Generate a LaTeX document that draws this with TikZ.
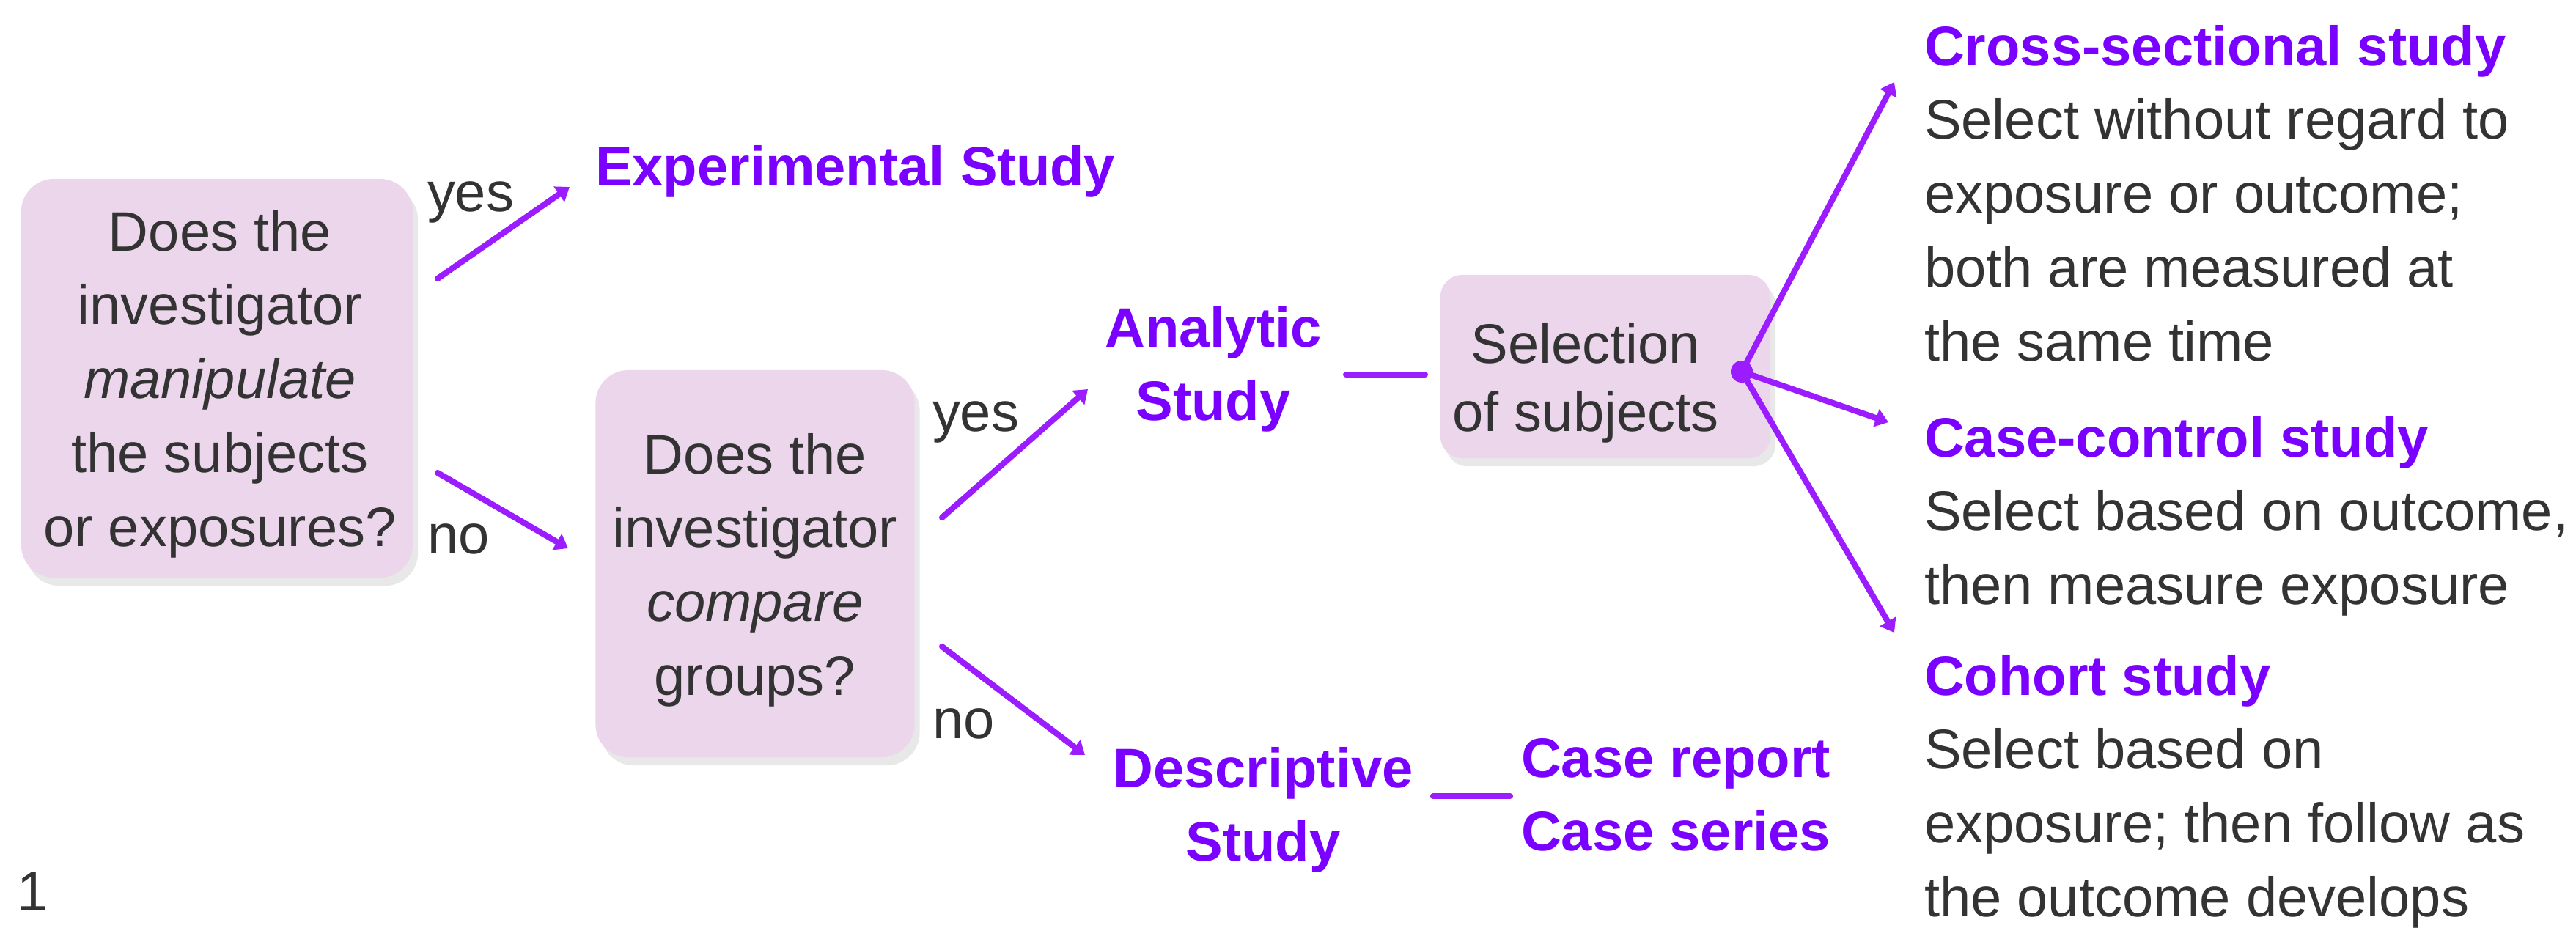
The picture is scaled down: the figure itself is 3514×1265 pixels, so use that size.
\documentclass[tikz,border=0pt]{standalone}
\usepackage{fontspec}
\setmainfont{Liberation Sans}
\usetikzlibrary{arrows.meta,calc}
\definecolor{vio}{HTML}{7A00FF}
\definecolor{vline}{HTML}{9A1CFF}
\definecolor{boxpink}{HTML}{ECD6EC}
\definecolor{txtgrey}{HTML}{333333}
\definecolor{shade}{HTML}{E8E8E8}
\begin{document}
\begin{tikzpicture}[x=0.01cm, y=-0.01cm,
  every node/.style={inner sep=0pt, outer sep=0pt},
  body/.style={font=\fontsize{21.6pt}{28.7pt}\selectfont, text=txtgrey},
  head/.style={font=\fontsize{21.6pt}{28.7pt}\selectfont\bfseries, text=vio},
  qbox/.style={fill=boxpink, rounded corners=0.45cm},
  shadowbox/.style={fill=shade, rounded corners=0.45cm},
  conn/.style={draw=vline, line width=2.3pt, line cap=round},
  tip/.style={-{Triangle[length=5pt,width=7pt]}},
]
\fill[white] (0,0) rectangle (3514,1265);
\useasboundingbox (0,0) rectangle (3514,1265);

% ---- question box 1
\node[shadowbox, minimum width=5.34cm, minimum height=5.44cm] (q1s) at (303,527) {};
\node[qbox, minimum width=5.34cm, minimum height=5.44cm] (q1) at (296,516) {};
\node[body, align=center, anchor=north] (q1t) at (300,287)
  {Does the\\investigator\\\textit{manipulate}\\the subjects\\or exposures?};

% ---- question box 2
\node[shadowbox, minimum width=4.35cm, minimum height=5.28cm] (q2s) at (1037,780) {};
\node[qbox, minimum width=4.35cm, minimum height=5.28cm] (q2) at (1030,769) {};
\node[body, align=center, anchor=north] (q2t) at (1030,591)
  {Does the\\investigator\\\textit{compare}\\groups?};

% ---- selection box
\node[shadowbox, rounded corners=0.3cm, minimum width=4.5cm, minimum height=2.5cm] (sels) at (2197,511) {};
\node[qbox, rounded corners=0.3cm, minimum width=4.5cm, minimum height=2.5cm] (sel) at (2190,500) {};
\node[body, align=center, anchor=north, font=\fontsize{21.6pt}{26.5pt}\selectfont] (selt) at (2163,440)
  {Selection\\of subjects};

% ---- purple study labels
\node[head, anchor=base west] (exp) at (812,253) {Experimental Study};
\node[head, align=center, anchor=north] (ana) at (1655,418) {Analytic\\Study};
\node[head, align=center, anchor=north] (des) at (1723,1019) {Descriptive\\Study};
\node[head, align=left, anchor=north west] (cases) at (2075,1007) {Case report\\Case series};

% ---- yes / no labels
\node[body, anchor=base west] (yes1) at (583,288) {yes};
\node[body, anchor=base west] (no1) at (583,755) {no};
\node[body, anchor=base west] (yes2) at (1272,588) {yes};
\node[body, anchor=base west] (no2) at (1272,1007) {no};

% ---- right-hand descriptions
\node[body, align=left, anchor=north west] (cross) at (2625,34)
  {\textbf{\color{vio}Cross-sectional study}\\Select without regard to\\exposure or outcome;\\both are measured at\\the same time};
\node[body, align=left, anchor=north west] (cc) at (2625,568)
  {\textbf{\color{vio}Case-control study}\\Select based on outcome,\\then measure exposure};
\node[body, align=left, anchor=north west] (coh) at (2625,893)
  {\textbf{\color{vio}Cohort study}\\Select based on\\exposure; then follow as\\the outcome develops};

% ---- figure number fragment
\node[body, anchor=north west] (fig) at (24,1190) {1};

% ---- connector end points
\coordinate (y1a) at (597,380);  \coordinate (y1b) at (777,255);
\coordinate (n1a) at (597,645);  \coordinate (n1b) at (775,748);
\coordinate (y2a) at (1285,706); \coordinate (y2b) at (1484,531);
\coordinate (n2a) at (1285,882); \coordinate (n2b) at (1480,1030);
\coordinate (asa) at (1836,511); \coordinate (asb) at (1944,511);
\coordinate (dca) at (1955,1086); \coordinate (dcb) at (2060,1086);
\coordinate (t1) at (2584,112);
\coordinate (t2) at (2576,576);
\coordinate (t3) at (2584,863);

\node[circle, fill=vline, minimum size=0.3cm] (dot) at (2376,507) {};

\draw[conn,tip] (y1a) -- (y1b);
\draw[conn,tip] (n1a) -- (n1b);
\draw[conn,tip] (y2a) -- (y2b);
\draw[conn,tip] (n2a) -- (n2b);
\draw[conn] (asa) -- (asb);
\draw[conn] (dca) -- (dcb);
\draw[conn,tip] (dot.center) -- (t1);
\draw[conn,tip] (dot.center) -- (t2);
\draw[conn,tip] (dot.center) -- (t3);
\end{tikzpicture}
\end{document}
